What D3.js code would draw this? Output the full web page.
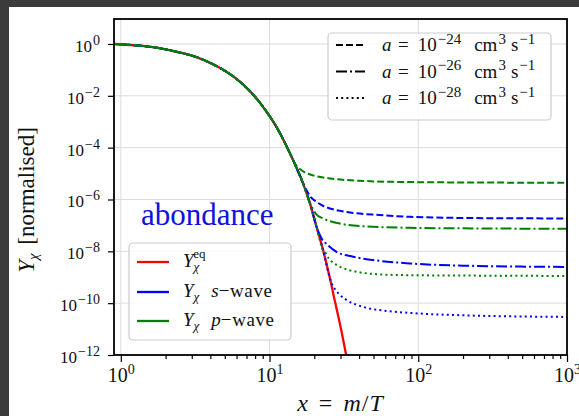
<!DOCTYPE html>
<html>
<head>
<meta charset="utf-8">
<script src="https://cdn.jsdelivr.net/npm/d3@7"></script>
<style>
  body { margin: 0; background: #3b3b3b; }
  svg { display: block; }
  text { font-family: "Liberation Serif", "DejaVu Serif", serif; fill: #111; }
</style>
</head>
<body>
<div id="chart"></div>
<script>
// equilibrium abundance
const eqX = [0.9, 1.24, 1.74, 2.37, 3.23, 4.4, 5.85, 7.57, 9.3, 11.1, 13.0, 14.4, 16.8, 18.7, 20.7, 22.9, 25.5, 27.5, 30.5, 33.5];
const eqY = [1.0, 0.89, 0.72, 0.50, 0.31, 0.14, 5.0e-2, 1.3e-2, 3.0e-3, 6.5e-4, 1.15e-4, 3.3e-5, 4.2e-6, 7.1e-7, 8.9e-8, 1.12e-8, 8.9e-10, 1.2e-10, 7.9e-12, 5e-13];

// freeze-out tails (after leaving the equilibrium curve)
const sWave24X = [17.8, 19.0, 20.7, 23, 25.5, 33, 55, 88, 300, 1000];
const sWave24Y = [2.2e-6, 1.2e-6, 8.1e-7, 5.6e-7, 4.5e-7, 3.3e-7, 2.5e-7, 2.14e-7, 1.9e-7, 1.86e-7];
const sWave26X = [21.5, 22.5, 24.2, 28.2, 36.5, 55, 88, 200, 1000];
const sWave26Y = [5.0e-8, 3.0e-8, 1.9e-8, 9.5e-9, 6.2e-9, 4.3e-9, 3.4e-9, 2.8e-9, 2.5e-9];
const sWave28X = [26.5, 27.5, 29, 33, 42.6, 61, 88, 200, 1000];
const sWave28Y = [5.0e-10, 3.5e-10, 2.4e-10, 1.32e-10, 7.2e-11, 5.0e-11, 4.2e-11, 3.4e-11, 2.95e-11];

const pWave24X = [15.0, 16.0, 17.5, 19.6, 25.5, 42.6, 88, 300, 1000];
const pWave24Y = [2.2e-5, 1.5e-5, 1.07e-5, 8.5e-6, 6.5e-6, 5.2e-6, 4.7e-6, 4.5e-6, 4.4e-6];
const pWave26X = [19.5, 20.5, 22.9, 26, 29.7, 45, 88, 300, 1000];
const pWave26Y = [4.5e-7, 2.8e-7, 1.86e-7, 1.41e-7, 1.17e-7, 9.1e-8, 8.1e-8, 7.6e-8, 7.4e-8];
const pWave28X = [23.5, 24.2, 26, 28.2, 33, 38.5, 55, 88, 300, 1000];
const pWave28Y = [1.0e-8, 7.1e-9, 4.2e-9, 3.0e-9, 2.0e-9, 1.62e-9, 1.29e-9, 1.2e-9, 1.15e-9, 1.12e-9];

const xTicks = [1, 10, 100, 1000];
const xTickExp = ["0", "1", "2", "3"];
const yTicks = [1, 1e-2, 1e-4, 1e-6, 1e-8, 1e-10, 1e-12];
const yTickExp = ["0", "\u22122", "\u22124", "\u22126", "\u22128", "\u221210", "\u221212"];
const crossExp = ["\u221224", "\u221226", "\u221228"];

const W = 579, H = 416;
const pLeft = 114, pRight = 567, pTop = 19, pBottom = 355;

const svg = d3.select("#chart").append("svg").attr("width", W).attr("height", H);
svg.append("rect").attr("width", W).attr("height", H).attr("fill", "#3b3b3b");
svg.append("rect").attr("x", 9).attr("y", 7).attr("width", W - 9).attr("height", H - 7).attr("fill", "#fff");

const x = d3.scaleLog().domain([0.9, 1000]).range([pLeft, pRight]);
const y = d3.scaleLog().domain([1e-12, 9.2]).range([pBottom, pTop]);

svg.append("defs").append("clipPath").attr("id", "clip")
    .append("rect").attr("x", pLeft).attr("y", pTop).attr("width", pRight - pLeft).attr("height", pBottom - pTop);

// grid
svg.append("g").selectAll("line").data(xTicks.filter(v => v < 1000)).join("line")
    .attr("x1", d => x(d)).attr("x2", d => x(d)).attr("y1", pTop).attr("y2", pBottom)
    .attr("stroke", "#dcdcdc").attr("stroke-width", 1);
svg.append("g").selectAll("line").data(yTicks.filter(v => v > 1e-12)).join("line")
    .attr("y1", d => y(d)).attr("y2", d => y(d)).attr("x1", pLeft).attr("x2", pRight)
    .attr("stroke", "#dcdcdc").attr("stroke-width", 1);

// build a full curve: equilibrium points up to where the tail starts
function withEq(tx, ty) {
    const pts = [];
    eqX.forEach((v, i) => { if (v < tx[0]) pts.push([v, eqY[i]]); });
    tx.forEach((v, i) => pts.push([v, ty[i]]));
    return pts;
}

const dashed = "7,3", dashdot = "11,3,2,3", dotted = "2,3.2";
const curves = [
    { pts: eqX.map((v, i) => [v, eqY[i]]), color: "#ff0000", dash: null, w: 2.3 },
    { pts: withEq(sWave24X, sWave24Y), color: "#0000ff", dash: dashed, w: 2 },
    { pts: withEq(sWave26X, sWave26Y), color: "#0000ff", dash: dashdot, w: 2 },
    { pts: withEq(sWave28X, sWave28Y), color: "#0000ff", dash: dotted, w: 2 },
    { pts: withEq(pWave24X, pWave24Y), color: "#008000", dash: dashed, w: 2 },
    { pts: withEq(pWave26X, pWave26Y), color: "#008000", dash: dashdot, w: 2 },
    { pts: withEq(pWave28X, pWave28Y), color: "#008000", dash: dotted, w: 2 }
];

const line = d3.line().x(d => x(d[0])).y(d => y(d[1])).curve(d3.curveMonotoneX);
const gCurves = svg.append("g").attr("clip-path", "url(#clip)");
curves.forEach(c => {
    gCurves.append("path")
        .attr("d", line(c.pts))
        .attr("fill", "none")
        .attr("stroke", c.color)
        .attr("stroke-width", c.w)
        .attr("stroke-dasharray", c.dash);
});

// axes
const xMinor = [];
[1, 10, 100].forEach(b => { for (let k = 2; k <= 9; k++) xMinor.push(b * k); });

const xAxis = svg.append("g").attr("transform", `translate(0,${pBottom})`)
    .call(d3.axisBottom(x).tickValues(xTicks).tickSize(7).tickFormat(() => ""));
xAxis.select(".domain").remove();
svg.append("g").attr("transform", `translate(0,${pBottom})`)
    .call(d3.axisBottom(x).tickValues(xMinor).tickSize(4).tickFormat(() => ""))
    .select(".domain").remove();

xAxis.selectAll(".tick text")
    .attr("y", 27).attr("dy", null).attr("font-size", 20).attr("text-anchor", "middle")
    .each(function (d, i) {
        const t = d3.select(this);
        t.append("tspan").text("10");
        t.append("tspan").attr("dy", -8).attr("font-size", 14).text(xTickExp[i]);
    });

const yAxis = svg.append("g").attr("transform", `translate(${pLeft},0)`)
    .call(d3.axisLeft(y).tickValues(yTicks).tickSize(6).tickFormat(() => ""));
yAxis.select(".domain").remove();
yAxis.selectAll(".tick text")
    .attr("x", -14).attr("y", 7.5).attr("dy", null).attr("font-size", 17).attr("text-anchor", "end")
    .each(function (d, i) {
        const t = d3.select(this);
        t.append("tspan").text("10");
        t.append("tspan").attr("dx", 1).attr("dy", -7).attr("font-size", 14).text(yTickExp[i]);
    });
svg.selectAll(".tick line").attr("stroke", "#000").attr("stroke-width", 1.2);

// frame
svg.append("rect").attr("x", pLeft).attr("y", pTop).attr("width", pRight - pLeft).attr("height", pBottom - pTop)
    .attr("fill", "none").attr("stroke", "#000").attr("stroke-width", 1.8);

// axis labels
const xl = svg.append("text").attr("x", (pLeft + pRight) / 2).attr("y", 411)
    .attr("text-anchor", "middle").attr("font-size", 24).attr("letter-spacing", 1);
xl.append("tspan").attr("font-style", "italic").text("x");
xl.append("tspan").attr("dx", 10).text("=");
xl.append("tspan").attr("dx", 10).attr("font-style", "italic").text("m");
xl.append("tspan").text("/");
xl.append("tspan").attr("font-style", "italic").text("T");

const yl = svg.append("text").attr("transform", "translate(34,200) rotate(-90)")
    .attr("text-anchor", "middle").attr("font-size", 23);
yl.append("tspan").attr("font-style", "italic").text("Y");
yl.append("tspan").attr("font-style", "italic").attr("font-size", 15).attr("dy", 4).text("\u03c7");
yl.append("tspan").attr("dy", -4).attr("dx", 3).text(" [normalised]");

// annotation
svg.append("text").attr("x", 141).attr("y", 225).attr("font-size", 31)
    .style("fill", "#1010e0").text("abondance");

// legend: cross sections
svg.append("rect").attr("x", 328).attr("y", 33).attr("width", 223).attr("height", 87).attr("rx", 4)
    .attr("fill", "#fff").attr("fill-opacity", 0.85).attr("stroke", "#cccccc").attr("stroke-width", 1.2);
[dashed, dashdot, dotted].forEach((dash, i) => {
    const by = 51 + i * 26.5;
    svg.append("line").attr("x1", 336).attr("x2", 365).attr("y1", by - 6).attr("y2", by - 6)
        .attr("stroke", "#000").attr("stroke-width", 2).attr("stroke-dasharray", dash);
    const t = svg.append("text").attr("x", 382).attr("y", by).attr("font-size", 19);
    t.append("tspan").attr("font-style", "italic").text("a");
    t.append("tspan").attr("dx", 6.5).text("=");
    t.append("tspan").attr("dx", 9).text("10");
    t.append("tspan").attr("dx", 1).attr("dy", -7.5).attr("font-size", 15).text(crossExp[i]);
    t.append("tspan").attr("dx", 13).attr("dy", 7.5).text("cm");
    t.append("tspan").attr("dx", 1).attr("dy", -7.5).attr("font-size", 15).text("3");
    t.append("tspan").attr("dx", 5).attr("dy", 7.5).text("s");
    t.append("tspan").attr("dx", 1).attr("dy", -7.5).attr("font-size", 15).text("\u22121");
});

// legend: curves
svg.append("rect").attr("x", 129).attr("y", 243).attr("width", 162).attr("height", 97).attr("rx", 4)
    .attr("fill", "#fff").attr("fill-opacity", 0.85).attr("stroke", "#cccccc").attr("stroke-width", 1.2);
const legRows = [
    { color: "#ff0000", kind: "eq" },
    { color: "#0000ff", kind: "s" },
    { color: "#008000", kind: "p" }
];
legRows.forEach((r, i) => {
    const ly = [262, 292, 321][i];
    svg.append("line").attr("x1", 137).attr("x2", 169).attr("y1", ly).attr("y2", ly)
        .attr("stroke", r.color).attr("stroke-width", 2.3);
    const t = svg.append("text").attr("x", 183).attr("y", ly + 5).attr("font-size", 19);
    t.append("tspan").attr("font-style", "italic").text("Y");
    t.append("tspan").attr("font-style", "italic").attr("font-size", 13).attr("dy", 4).text("\u03c7");
    if (r.kind === "eq") {
        t.append("tspan").attr("font-size", 13).attr("dx", -6).attr("dy", -13).text("eq");
    } else {
        t.append("tspan").attr("font-style", "italic").attr("dx", 12).attr("dy", -4).text(r.kind);
        t.append("tspan").attr("letter-spacing", 0.6).text("\u2212wave");
    }
});
</script>
</body>
</html>
